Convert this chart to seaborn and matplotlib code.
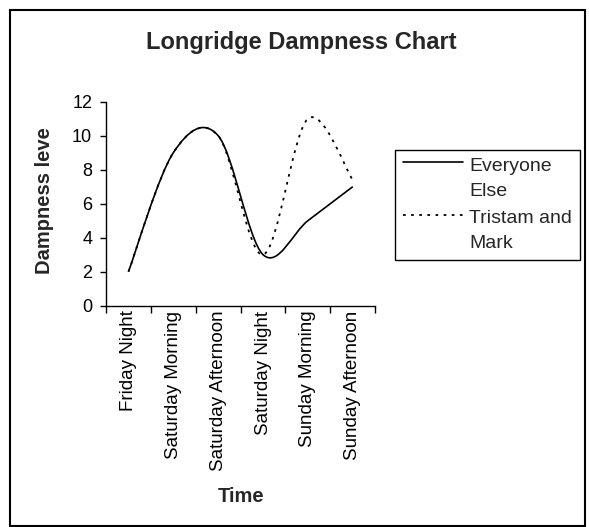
import numpy as np
import matplotlib
matplotlib.use("Agg")
import matplotlib.pyplot as plt
import seaborn as sns
from matplotlib.path import Path
from matplotlib.patches import PathPatch, Rectangle
from matplotlib.lines import Line2D
from matplotlib.legend_handler import HandlerLine2D

periods = ["Friday Night", "Saturday Morning", "Saturday Afternoon",
           "Saturday Night", "Sunday Morning", "Sunday Afternoon"]
everyone_else = [2, 9, 10, 3, 5, 7]
tristam_and_mark = [2, 9, 10, 3, 11, 7.4]
series_labels = ["Everyone\nElse", "Tristam and\nMark"]
y_ticks = [0, 2, 4, 6, 8, 10, 12]

sns.set_theme(style="ticks")
plt.rcParams['font.family'] = ['Liberation Sans', 'DejaVu Sans']


def smooth_path(xs, ys):
    # excel-style smoothed line: cubic bezier through every point
    pts = np.column_stack([xs, ys]).astype(float)
    n = len(pts)
    verts = [pts[0]]
    codes = [Path.MOVETO]
    for i in range(n - 1):
        p0 = pts[max(i - 1, 0)]
        p1 = pts[i]
        p2 = pts[i + 1]
        p3 = pts[min(i + 2, n - 1)]
        verts += [p1 + (p2 - p0) / 6, p2 - (p3 - p1) / 6, p2]
        codes += [Path.CURVE4] * 3
    return Path(verts, codes)


class FirstLineHandler(HandlerLine2D):
    """put the legend line next to the first line of a two-line label"""
    def create_artists(self, legend, orig_handle, xdescent, ydescent,
                       width, height, fontsize, trans):
        artists = super().create_artists(legend, orig_handle, xdescent, ydescent,
                                         width, height, fontsize, trans)
        for a in artists:
            if isinstance(a, Line2D):
                a.set_ydata(np.asarray(a.get_ydata()) + 0.83 * fontsize)
        return artists


fig, ax = plt.subplots(figsize=(5.89, 5.27), dpi=100)
fig.patch.set_facecolor("white")
ax.set_facecolor("white")
fig.subplots_adjust(left=0.180, right=0.637, bottom=0.420, top=0.807)

x = np.arange(len(periods))
dotted = (0, (1.5, 3))
ax.add_patch(PathPatch(smooth_path(x, tristam_and_mark), fill=False,
                       edgecolor="black", lw=1.3, linestyle=dotted))
ax.add_patch(PathPatch(smooth_path(x, everyone_else), fill=False,
                       edgecolor="black", lw=1.2))

ax.set_xlim(-0.5, len(periods) - 0.5)
ax.set_ylim(0, 12)
ax.set_yticks(y_ticks)
ax.set_yticklabels([str(t) for t in y_ticks], fontsize=13)
ax.set_xticks(x)
ax.set_xticklabels(periods, rotation=90, fontsize=13.5)
ax.set_xticks(np.arange(-0.5, len(periods), 1), minor=True)
ax.tick_params(axis="x", which="major", length=0, pad=3.5, colors="black")
ax.tick_params(axis="x", which="minor", length=5, width=1, direction="out", color="black")
ax.tick_params(axis="y", length=4.5, width=1, direction="out", colors="black", pad=5.5)
ax.grid(False)
sns.despine(ax=ax)
for s in ["left", "bottom"]:
    ax.spines[s].set_color("black")
    ax.spines[s].set_linewidth(1)

fig.text(301 / 589, 1 - 43 / 527, "Longridge Dampness Chart", ha="center", va="center",
         fontsize=17, fontweight="bold")
fig.text(44.5 / 589, 1 - 201 / 527, "Dampness leve", ha="center", va="center",
         rotation=90, fontsize=14.5, fontweight="bold")
fig.text(241 / 589, 1 - 497 / 527, "Time", ha="center", va="center",
         fontsize=14.5, fontweight="bold")

handles = [Line2D([], [], color="black", lw=1.2),
           Line2D([], [], color="black", lw=1.3, linestyle=dotted)]
leg = fig.legend(handles, series_labels, loc="upper left",
                 bbox_to_anchor=(395 / 589, 1 - 150 / 527), borderaxespad=0,
                 fontsize=14, frameon=True, fancybox=False, framealpha=1,
                 edgecolor="black", handlelength=3.1, handletextpad=0.3,
                 borderpad=0.4, labelspacing=0.55,
                 handler_map={Line2D: FirstLineHandler()})
leg.get_frame().set_linewidth(1)
for t in leg.get_texts():
    t.set_linespacing(1.6)

fig.patches.append(Rectangle((10 / 589, 1 / 527), 575 / 589, 516 / 527,
                             transform=fig.transFigure, fill=False,
                             edgecolor="black", lw=1.5))

plt.savefig("out.png", dpi=100)
